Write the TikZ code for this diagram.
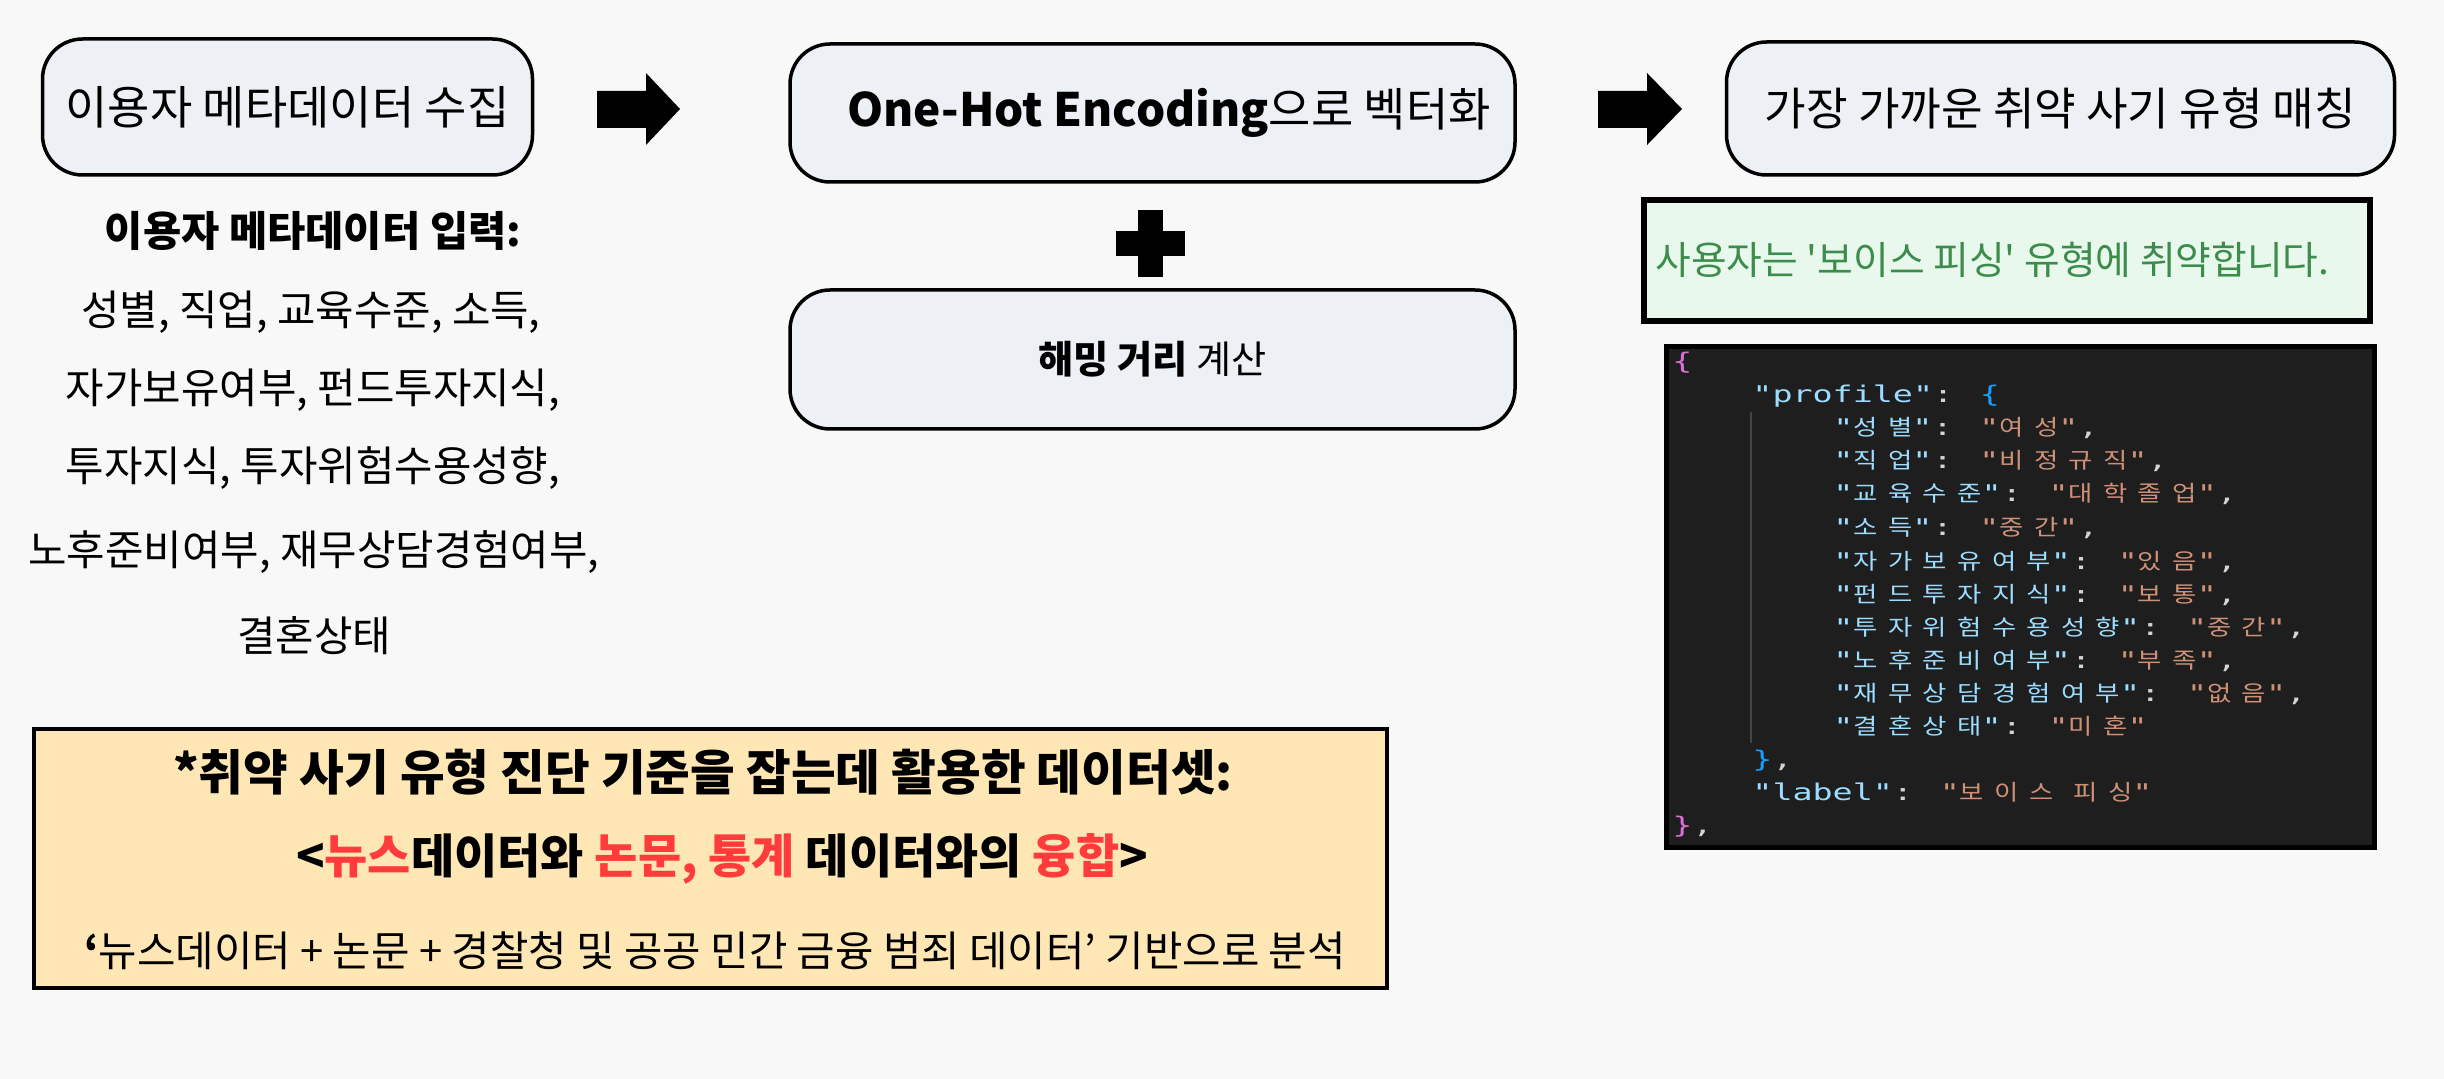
\documentclass[tikz,border=0pt]{standalone}
\usepackage{fontspec}
\setmainfont{Noto Sans CJK KR}
\newfontfamily\plainkr{Noto Sans CJK KR}[Ligatures=TeXOff]
\newfontfamily\codefont{DejaVu Sans Mono}[Ligatures=TeXOff,FakeStretch=1.45]
\newfontfamily\codekr{Noto Sans CJK KR}[Ligatures=TeXOff,FakeStretch=1.2,LetterSpace=47]
\definecolor{bg}{HTML}{F8F8F8}
\definecolor{boxfill}{HTML}{EDF0F4}
\definecolor{greenfill}{HTML}{E8F8EC}
\definecolor{greentext}{HTML}{3C8C4C}
\definecolor{codebg}{HTML}{1E1E1E}
\definecolor{ckey}{HTML}{9CDCFE}
\definecolor{cstr}{HTML}{CE9178}
\definecolor{cpunc}{HTML}{D4D4D4}
\definecolor{cbraceA}{HTML}{DA70D6}
\definecolor{cbraceB}{HTML}{179FFF}
\definecolor{orangefill}{HTML}{FFE6B5}
\definecolor{redtext}{HTML}{FF3B3B}
\definecolor{guide}{HTML}{454545}
\newcommand\hg[1]{{\codekr\fontsize{11}{13}\selectfont #1}}
\newcommand\ky[1]{\textcolor{ckey}{"\hg{#1}"}}
\newcommand\sv[1]{\textcolor{cstr}{"\hg{#1}"}}
\newcommand\rd[1]{\textcolor{redtext}{#1}}
\begin{document}
\begin{tikzpicture}[x=0.5pt,y=-0.5pt,
  rbox/.style={draw=black, line width=1.75pt, fill=boxfill, rounded corners=20pt, inner sep=0pt},
  boxtxt/.style={inner sep=0pt, font=\fontsize{23}{27}\selectfont},
  coltxt/.style={inner sep=0pt, font=\fontsize{20.9}{25}\selectfont},
  codeline/.style={inner sep=0pt, anchor=base west, font=\codefont\fontsize{11.5}{14}\selectfont, text=cpunc},
  blockarrow/.style={fill=black}
]
\useasboundingbox (0,0) rectangle (2444,1079);
\fill[bg] (0,0) rectangle (2444,1079);

% top boxes
\node[rbox, minimum width=245pt, minimum height=68pt] (b1) at (287.5,107) {};
\node[boxtxt] (b1t) at (b1.center) {이용자 메타데이터 수집};

\node[rbox, minimum width=362.5pt, minimum height=69pt] (b2) at (1152.5,113) {};
\node[boxtxt] (b2t) at (1169,113) {{\bfseries One-Hot Encoding}으로 벡터화};

\node[rbox, minimum width=362.5pt, minimum height=69.5pt] (b3) at (1152.5,359.5) {};
\node[boxtxt, font=\fontsize{19.1}{23}\selectfont] (b3t) at (b3.center) {{\bfseries 해밍 거리} 계산};

\node[rbox, minimum width=334pt, minimum height=66.5pt] (b4) at (2060.5,108.5) {};
\node[boxtxt, font=\fontsize{22.6}{27}\selectfont] (b4t) at (b4.center) {가장 가까운 취약 사기 유형 매칭};

% block arrows
\fill[blockarrow] (597,91) -- (646,91) -- (646,73) -- (680,109) -- (646,145) -- (646,128) -- (597,128) -- cycle;
\fill[blockarrow] (1598,91) -- (1647,91) -- (1647,73) -- (1682,109) -- (1647,145) -- (1647,128) -- (1598,128) -- cycle;

% plus sign
\fill[black] (1138,210) rectangle (1163,277);
\fill[black] (1116,231) rectangle (1185,256);

% left column
\node[coltxt, font=\bfseries\fontsize{20.8}{25}\selectfont] (ct) at (313,231) {이용자 메타데이터 입력:};
\node[coltxt] (c1) at (311,312) {성별, 직업, 교육수준, 소득,};
\node[coltxt] (c2) at (313,390) {자가보유여부, 펀드투자지식,};
\node[coltxt] (c3) at (313,468) {투자지식, 투자위험수용성향,};
\node[coltxt] (c4) at (314,552) {노후준비여부, 재무상담경험여부,};
\node[coltxt] (c5) at (314,636) {결혼상태};

% green result box
\node[draw=black, line width=3pt, fill=greenfill, minimum width=363pt, minimum height=60.5pt, inner sep=0pt] (gb) at (2006.5,260.5) {};
\node[inner sep=0pt, anchor=west, text=greentext, font=\plainkr\fontsize{19.4}{23}\selectfont] (gt) at (1655,260) {사용자는 '보이스 피싱' 유형에 취약합니다.};

% code box
\node[draw=black, line width=2.5pt, fill=codebg, minimum width=354pt, minimum height=250pt, inner sep=0pt] (cb) at (2020,597) {};
\draw[guide, line width=1pt] (1751,412) -- (1751,743);
\node[codeline] (l0) at (1672,370) {\textcolor{cbraceA}{\{}};
\node[codeline] (l1) at (1752,403) {\textcolor{ckey}{"profile"}: \textcolor{cbraceB}{\{}};
\node[codeline] (l2) at (1833,436) {\ky{성별}: \sv{여성},};
\node[codeline] (l3) at (1833,469) {\ky{직업}: \sv{비정규직},};
\node[codeline] (l4) at (1833,502) {\ky{교육수준}: \sv{대학졸업},};
\node[codeline] (l5) at (1833,535) {\ky{소득}: \sv{중간},};
\node[codeline] (l6) at (1833,569) {\ky{자가보유여부}: \sv{있음},};
\node[codeline] (l7) at (1833,602) {\ky{펀드투자지식}: \sv{보통},};
\node[codeline] (l8) at (1833,635) {\ky{투자위험수용성향}: \sv{중간},};
\node[codeline] (l9) at (1833,668) {\ky{노후준비여부}: \sv{부족},};
\node[codeline] (l10) at (1833,701) {\ky{재무상담경험여부}: \sv{없음},};
\node[codeline] (l11) at (1833,734) {\ky{결혼상태}: \sv{미혼}};
\node[codeline] (l12) at (1752,767) {\textcolor{cbraceB}{\}},};
\node[codeline] (l13) at (1752,800) {\textcolor{ckey}{"label"}: \textcolor{cstr}{"\hg{보이스} \hg{피싱}"}};
\node[codeline] (l14) at (1672,833) {\textcolor{cbraceA}{\}},};

% bottom dataset box
\node[draw=black, line width=2pt, fill=orangefill, minimum width=676.5pt, minimum height=129.5pt, inner sep=0pt] (db) at (710.5,858.5) {};
\node[inner sep=0pt, font=\bfseries\fontsize{24.3}{28}\selectfont] (d1) at (703,772) {*취약 사기 유형 진단 기준을 잡는데 활용한 데이터셋:};
\node[inner sep=0pt, font=\bfseries\fontsize{23.5}{28}\selectfont] (d2) at (722,859) {<\rd{뉴스}데이터와 \rd{논문, 통계} 데이터와의 \rd{융합}>};
\node[inner sep=0pt, font=\fontsize{20.9}{25}\selectfont] (d3) at (715,951) {{\bfseries ‘}뉴스데이터 + 논문 + 경찰청 및 공공 민간 금융 범죄 데이터’ 기반으로 분석};
\end{tikzpicture}
\end{document}
